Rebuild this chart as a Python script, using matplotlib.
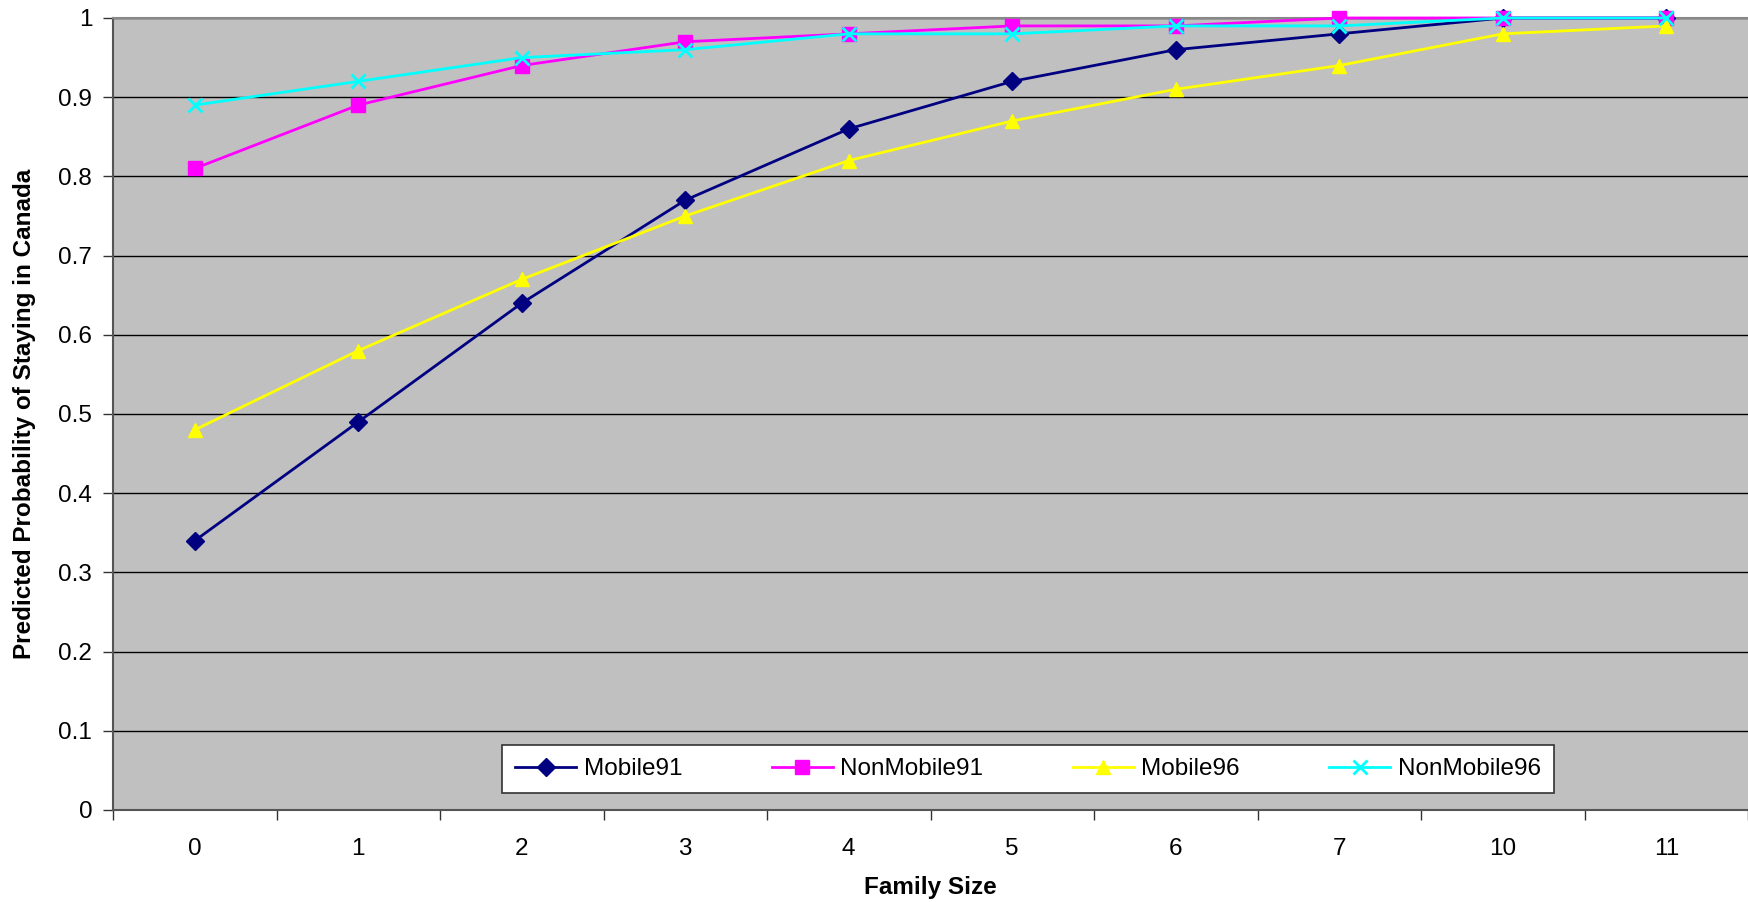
import matplotlib

matplotlib.use("Agg")
import matplotlib.pyplot as plt
from matplotlib.ticker import FixedLocator, NullFormatter

plt.rcParams["font.family"] = ["Liberation Sans", "DejaVu Sans"]

FAMILY_SIZES = ["0", "1", "2", "3", "4", "5", "6", "7", "10", "11"]

MOBILE91 = [0.34, 0.49, 0.64, 0.77, 0.86, 0.92, 0.96, 0.98, 1.00, 1.00]
NONMOBILE91 = [0.81, 0.89, 0.94, 0.97, 0.98, 0.99, 0.99, 1.00, 1.00, 1.00]
MOBILE96 = [0.48, 0.58, 0.67, 0.75, 0.82, 0.87, 0.91, 0.94, 0.98, 0.99]
NONMOBILE96 = [0.89, 0.92, 0.95, 0.96, 0.98, 0.98, 0.99, 0.99, 1.00, 1.00]

SERIES = [
    ("Mobile91", MOBILE91, "#000080", "D", 9),
    ("NonMobile91", NONMOBILE91, "#FF00FF", "s", 10),
    ("Mobile96", MOBILE96, "#FFFF00", "^", 10),
    ("NonMobile96", NONMOBILE96, "#00FFFF", "x", 10),
]

W, H = 1748, 902
fig = plt.figure(figsize=(W / 100, H / 100), dpi=100)
ax = fig.add_axes([113 / W, 1 - 810 / H, 1 - 113 / W, (810 - 18) / H])
ax.set_facecolor("#C0C0C0")

x = list(range(len(FAMILY_SIZES)))
for name, values, color, marker, size in SERIES:
    ax.plot(
        x,
        values,
        color=color,
        marker=marker,
        markersize=size,
        markeredgewidth=2 if marker == "x" else 1,
        linewidth=2,
        label=name,
        clip_on=False,
        zorder=3,
    )

ax.set_xlim(-0.5, len(FAMILY_SIZES) - 0.5)
ax.set_ylim(0, 1)
ax.set_yticks([i / 10 for i in range(11)])
ax.set_yticklabels(["0", "0.1", "0.2", "0.3", "0.4", "0.5", "0.6", "0.7", "0.8", "0.9", "1"])
ax.set_xticks(x)
ax.set_xticklabels(FAMILY_SIZES)
ax.xaxis.set_minor_locator(FixedLocator([i - 0.5 for i in range(len(FAMILY_SIZES) + 1)]))
ax.xaxis.set_minor_formatter(NullFormatter())
ax.tick_params(axis="x", which="major", length=0, pad=20, labelsize=17.5)
ax.tick_params(axis="x", which="minor", length=7, width=1, color="#333333")
ax.tick_params(axis="y", length=7, width=1, color="#333333", labelsize=17.5, pad=8)

ax.grid(axis="y", color="black", linewidth=1)
ax.set_axisbelow(True)

for side in ["left", "bottom"]:
    ax.spines[side].set_color("#555555")
    ax.spines[side].set_linewidth(1.5)
ax.spines["top"].set_color("#888888")
ax.spines["top"].set_linewidth(1.5)
ax.spines["right"].set_visible(False)

ax.set_xlabel("Family Size", fontsize=17.5, weight="bold", labelpad=12)
ax.set_ylabel("Predicted Probability of Staying in Canada", fontsize=17.5, weight="bold", labelpad=16)

leg = ax.legend(
    loc="center",
    bbox_to_anchor=((503 + 1553) / 2 / W, 1 - (745 + 793) / 2 / H),
    bbox_transform=fig.transFigure,
    ncol=4,
    fontsize=17.5,
    frameon=True,
    fancybox=False,
    edgecolor="#333333",
    facecolor="white",
    framealpha=1,
    borderpad=0.55,
    borderaxespad=0,
    handlelength=2.5,
    handletextpad=0.3,
    columnspacing=3.7,
)
leg.get_frame().set_linewidth(1.2)

fig.savefig("out.png", dpi=100)
plt.close(fig)
